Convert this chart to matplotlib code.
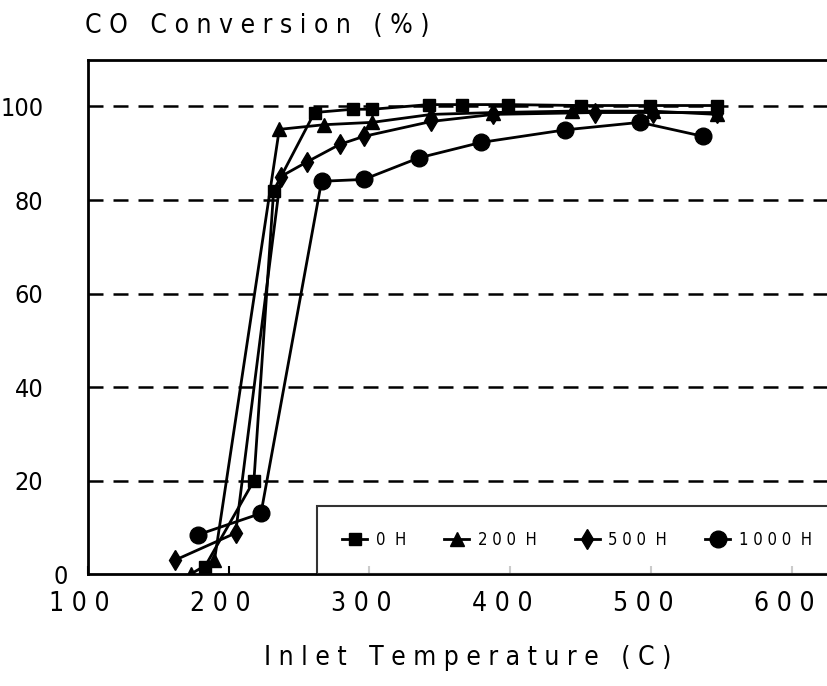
import numpy as np
import matplotlib.pyplot as plt
from matplotlib.transforms import ScaledTranslation

plt.rcParams['font.family'] = ['DejaVu Sans']
plt.rcParams['font.stretch'] = 'condensed'

# 0 H (squares)
t_0h = [183, 218, 232, 261, 288, 302, 342, 366, 398, 450, 499, 547]
c_0h = [1.5, 20, 82, 98.7, 99.4, 99.4, 100.4, 100.4, 100.4, 100.2, 100.2, 100.2]
# 200 H (triangles)
t_200h = [173, 190, 236, 268, 302, 344, 388, 444, 501, 547]
c_200h = [0, 3, 95.1, 96.1, 96.6, 98.3, 98.7, 99.0, 99.0, 98.3]
# 500 H (diamonds)
t_500h = [162, 205, 237, 256, 279, 296, 344, 388, 460, 501, 547]
c_500h = [3, 8.8, 85, 88.2, 91.9, 93.6, 96.8, 98.3, 98.7, 98.7, 98.7]
# 1000 H (circles)
t_1000h = [178, 223, 266, 296, 335, 379, 439, 492, 537]
c_1000h = [8.4, 13, 84, 84.4, 89, 92.3, 95, 96.6, 93.6]

labels = ['0  H', '2 0 0  H', '5 0 0  H', '1 0 0 0  H']
xticks = [100, 200, 300, 400, 500, 600]
yticks = [0, 20, 40, 60, 80, 100]


def spaced(s, sep=' '):
    return sep.join(s)


fig = plt.figure(figsize=(8.27, 6.86), dpi=100)
ax = fig.add_axes([0.106, 0.163, 0.92, 0.75])

kw = dict(color='black', linewidth=2)
ax.plot(t_0h, c_0h, marker='s', markersize=8, label=labels[0], **kw)
ax.plot(t_200h, c_200h, marker='^', markersize=10, label=labels[1], **kw)
ax.plot(t_500h, c_500h, marker='d', markersize=10, label=labels[2], **kw)
ax.plot(t_1000h, c_1000h, marker='o', markersize=12, label=labels[3], **kw)

ax.set_xlim(100, 640)
ax.set_ylim(0, 110)

ax.set_xticks(xticks)
ax.set_xticklabels([spaced(str(v)) for v in xticks], fontsize=19)
ax.set_yticks(yticks)
ax.set_yticklabels([str(v) for v in yticks], fontsize=18)
ax.tick_params(axis='x', direction='in', length=6, width=1.5, pad=12)
ax.tick_params(axis='y', length=0, pad=32)

# the scanned labels sit a bit left of the ticks, and "0" drops below the axis
for lab in ax.get_xticklabels():
    lab.set_transform(lab.get_transform() + ScaledTranslation(-0.08, 0, fig.dpi_scale_trans))
y0 = ax.get_yticklabels()[0]
y0.set_transform(y0.get_transform() + ScaledTranslation(0.25, 0.0, fig.dpi_scale_trans))

for y in yticks[1:]:
    ax.axhline(y, color='black', linestyle=(0, (6, 4)), linewidth=1.8, zorder=0)

for s in ['left', 'top', 'bottom']:
    ax.spines[s].set_linewidth(2)
ax.spines['right'].set_visible(False)

ax.set_xlabel(spaced('Inlet Temperature (C)'), fontsize=19, labelpad=20)
fig.text(0.103, 0.962, spaced('CO Conversion (%)'), fontsize=19, ha='left', va='center')

leg = ax.legend(loc='lower left', bbox_to_anchor=(0.302, 0.0), ncol=4, fontsize=12,
                frameon=True, fancybox=False, edgecolor='black', handlelength=1.5,
                handletextpad=0.5, columnspacing=2.3, borderpad=1.5, borderaxespad=0)
leg.get_frame().set_linewidth(1.5)

fig.savefig('out.png', dpi=100)
